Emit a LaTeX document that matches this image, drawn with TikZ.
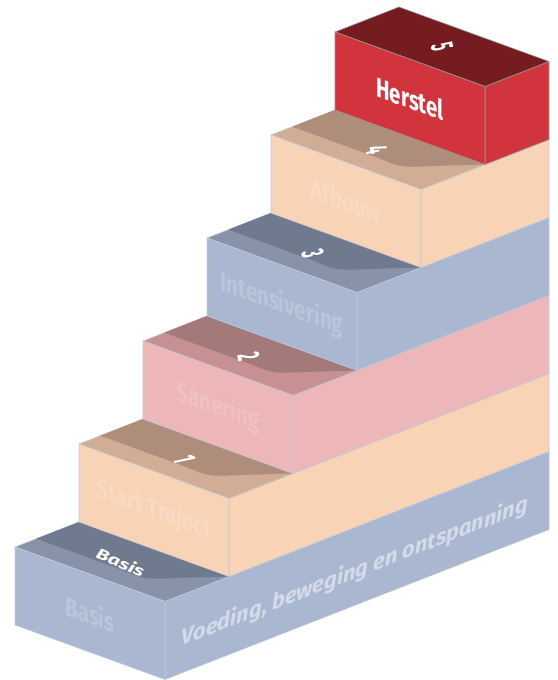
\documentclass[tikz,border=0pt]{standalone}
\usepackage{graphicx}
\usepackage{fontspec}
\setmainfont{Fira Sans}
\newfontfamily\narrowfont[FakeStretch=0.74]{Fira Sans}
\usetikzlibrary{calc}

\definecolor{bluefc}{HTML}{A9B7D1}
\definecolor{bluelt}{HTML}{8892A8}
\definecolor{bluedk}{HTML}{707A8F}
\definecolor{bluetx}{HTML}{BAC5DA}
\definecolor{peachfc}{HTML}{F9D3B6}
\definecolor{peachlt}{HTML}{D0AD94}
\definecolor{peachdk}{HTML}{AE8D7A}
\definecolor{peachtx}{HTML}{FADAC3}
\definecolor{pinkfc}{HTML}{EDB6B8}
\definecolor{pinklt}{HTML}{C79194}
\definecolor{pinkdk}{HTML}{A37979}
\definecolor{pinktx}{HTML}{F0C1C3}
\definecolor{redfc}{HTML}{D1343C}
\definecolor{reddk}{HTML}{741C20}
\definecolor{edgeline}{HTML}{C3CAD8}
\definecolor{voedtx}{HTML}{D3DBEA}

\newcommand\topnum[1]{\rotatebox{-78}{\scalebox{0.42}[1]{\fontsize{32}{32}\selectfont #1}}}
\newcommand\toptext[1]{\rotatebox{-23}{\scalebox{1.4}[1]{\fontsize{15}{15}\selectfont\itshape #1}}}

\begin{document}
\begin{tikzpicture}[x=1pt,y=1pt]
\tikzstyle{face} = [draw=edgeline, line width=0.6pt, line join=round]
\tikzstyle{frontlabel} = [inner sep=0pt, yslant=-0.363, font=\narrowfont\fontsize{27.5}{28}\selectfont\bfseries]
\tikzstyle{toplabel} = [inner sep=0pt, text=white, font=\bfseries]
\fill[white] (0,0) rectangle (557,680);
\useasboundingbox (0,0) rectangle (557,680);
\foreach \k/\fc/\lt/\dk/\tx/\name/\num in {
  0/bluefc/bluelt/bluedk/bluetx/Basis/\toptext{Basis},
  1/peachfc/peachlt/peachdk/peachtx/Start Traject/\topnum{1},
  2/pinkfc/pinklt/pinkdk/pinktx/Sanering/\topnum{2},
  3/bluefc/bluelt/bluedk/bluetx/Intensivering/\topnum{3},
  4/peachfc/peachlt/peachdk/peachtx/Afbouw/\topnum{4}} {
  \pgfmathtruncatemacro\d{6-\k}
  \coordinate (fl) at (15+64*\k, 55+103*\k);
  \coordinate (fr) at ($(fl)+(150,-54.5)$);
  \coordinate (tl) at ($(fl)+(0,78)$);
  \coordinate (tr) at ($(fr)+(0,78)$);
  \coordinate (br) at ($(fr)+\d*(64,25)$);
  \coordinate (brt) at ($(tr)+\d*(64,25)$);
  \coordinate (bl) at ($(tl)+\d*(64,25)$);
  \filldraw[face, fill=\fc] (fr) -- (br) -- (brt) -- (tr) -- cycle;
  \filldraw[face, fill=\lt] (tl) -- (tr) -- (brt) -- (bl) -- cycle;
  \fill[\dk] ($(tl)+(21.3,8.3)$) -- ($(tl)+(64,25)$) -- ($(tr)+(64,25)$)
    -- ($(tl)+(165.3,-30.9)$) .. controls ($(tl)+(130,-32.5)$) .. ($(tl)+(108,-23.2)$) -- cycle;
  \filldraw[face, fill=\fc] (fl) -- (fr) -- (tr) -- (tl) -- cycle;
  \node[frontlabel, text=\tx] (label\k) at ($(fl)+(75,11.75)$) {\name};
  \node[toplabel] (num\k) at ($(tl)+(105.7,-15.25)$) {\num};
}
\filldraw[face, draw=gray!80, fill=redfc] (485,515.5) -- (549,540.5) -- (549,618.5) -- (485,593.5) -- cycle;
\filldraw[face, draw=gray!80, fill=reddk] (335,648) -- (485,593.5) -- (549,618.5) -- (399,673) -- cycle;
\filldraw[face, draw=gray!80, fill=redfc] (335,570) -- (485,515.5) -- (485,593.5) -- (335,648) -- cycle;
\node[frontlabel, text=white] (label5) at (410,581.75) {Herstel};
\node[toplabel] (num5) at (442,633.25) {\topnum{5}};
\node[inner sep=0pt, yslant=0.39, text=voedtx, font=\fontsize{22}{22}\selectfont\bfseries\itshape] (voeding) at (355,108) {Voeding, beweging en ontspanning};
\end{tikzpicture}
\end{document}
